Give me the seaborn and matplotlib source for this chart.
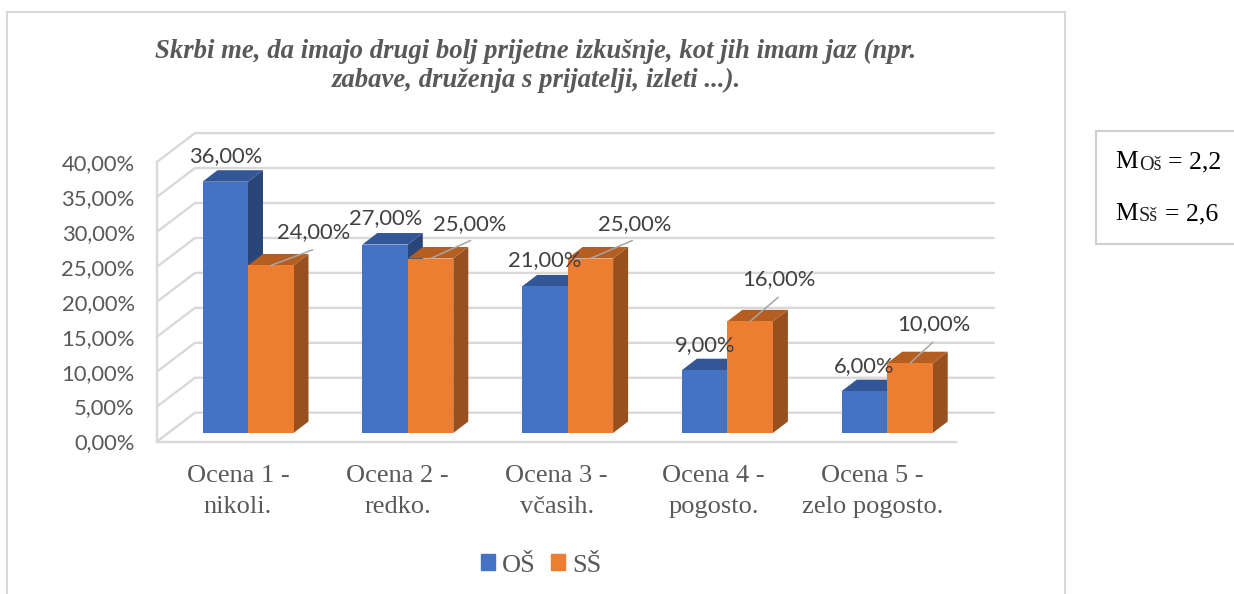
import matplotlib
matplotlib.use("Agg")
import matplotlib.pyplot as plt
from matplotlib.lines import Line2D
from matplotlib.patches import Patch, Polygon
from matplotlib.transforms import Affine2D
import pandas as pd
import seaborn as sns

categories = ["Ocena 1 -\nnikoli.", "Ocena 2 -\nredko.", "Ocena 3 -\nvčasih.",
              "Ocena 4 -\npogosto.", "Ocena 5 -\nzelo pogosto."]
os_values = [36, 27, 21, 9, 6]
ss_values = [24, 25, 25, 16, 10]
series_names = ["OŠ", "SŠ"]
y_ticks = [0, 5, 10, 15, 20, 25, 30, 35, 40]
title = "Skrbi me, da imajo drugi bolj prijetne izkušnje, kot jih imam jaz (npr.\nzabave, druženja s prijatelji, izleti ...)."

W, H = 1234, 594
sns.set_theme(style="white")
plt.rcParams["font.family"] = ["Lato", "DejaVu Sans"]
SERIF = ["Liberation Serif", "DejaVu Serif"]
BLUE, ORANGE = "#4472C4", "#ED7D31"
FACES = {BLUE: ("#2A4678", "#325696"), ORANGE: ("#98501E", "#B55E22")}
GRID = "#D9D9D9"

fig = plt.figure(figsize=(W / 100, H / 100), dpi=100, facecolor="white")

def fx(px): return px / W
def fy(py): return 1 - py / H

L, R, T, B = 157, 956, 125, 441.5
PX_X, PX_Y = 159.8, 6.98
X0, Y0 = 248, 433

ax2 = fig.add_axes([fx(L), fy(B), (R - L) / W, (B - T) / H])
ax = fig.add_axes([fx(L), fy(B), (R - L) / W, (B - T) / H], sharex=None)
ax.set_zorder(2)
ax.patch.set_visible(False)
ax2.set_zorder(1)

df = pd.DataFrame({
    "kat": categories * 2,
    "serija": [series_names[0]] * 5 + [series_names[1]] * 5,
    "v": os_values + ss_values,
})
sns.barplot(data=df, x="kat", y="v", hue="serija", palette=[BLUE, ORANGE],
            width=45.5 * 2 / PX_X, gap=0, saturation=1, legend=False, ax=ax, zorder=3)

xl, xr = (L - X0) / PX_X, (R - X0) / PX_X
ax.set_xlim(xl, xr)
ax.set_ylim((Y0 - B) / PX_Y, (Y0 - T) / PX_Y)
ax.set_xlabel("")
ax.set_ylabel("")
ax.set_yticks([])
for s in ax.spines.values():
    s.set_visible(False)
ax.tick_params(axis="x", length=0, pad=17)
ax.set_xticks(range(5))
ax.set_xticklabels(categories, fontfamily=SERIF, fontsize=19, color="#595959", linespacing=1.52)
label_shift = [-10, -10, -11, -14, -15]
for lab, s in zip(ax.get_xticklabels(), label_shift):
    lab.set_transform(lab.get_transform() + Affine2D().translate(s, 0))

# value axis and walls
ax2.set_xlim(xl, xr)
ax2.set_ylim(0, (B - T) / 6.99)
ax2.set_xticks([])
ax2.set_yticks(y_ticks)
ax2.set_yticklabels([f"{v},00%" for v in y_ticks], fontsize=15.8, color="#595959")
ax2.tick_params(axis="y", length=0, pad=16)
for n in ("top", "right"):
    ax2.spines[n].set_visible(False)
ax2.spines["left"].set_bounds(0, 40)
for n in ("left", "bottom"):
    ax2.spines[n].set_color(GRID)
    ax2.spines[n].set_linewidth(1.7)
ax2.patch.set_visible(False)
dx, dy = 38 / PX_X, 28.8 / 6.99
for v in y_ticks:
    ax2.plot([xl, xl + dx, xr + dx], [v, v + dy, v + dy], color=GRID, lw=1.7, clip_on=False,
             solid_joinstyle="miter")

# depth faces of the bars
ddx, ddy = 15 / PX_X, 11.5 / PX_Y
groups = {BLUE: ax.containers[0], ORANGE: ax.containers[1]}
for i in range(5):
    for color, cont in groups.items():
        r = cont[i]
        x0, x1, h = r.get_x(), r.get_x() + r.get_width(), r.get_height()
        side, top = FACES[color]
        z = 2 if color == BLUE else 2.5
        ax.add_patch(Polygon([(x1, 0), (x1 + ddx, ddy), (x1 + ddx, h + ddy), (x1, h)],
                             closed=True, fc=side, ec="none", zorder=z, clip_on=False))
        ax.add_patch(Polygon([(x0, h), (x0 + ddx, h + ddy), (x1 + ddx, h + ddy), (x1, h)],
                             closed=True, fc=top, ec="none", zorder=z, clip_on=False))
        r.set_zorder(z + 0.1)
        r.set_edgecolor("none")

# data labels: offsets in px from the top centre of each bar front (text dx, text dy, leader dx, leader dy)
os_off = [(0.5, 26, 0, 0), (1, 26, 0, 0), (0, 26, 0, 0), (0, 25, 0, 0), (0, 25, 0, 0)]
ss_off = [(43, 33.7, 42, 15.7), (39, 34.7, 40, 18), (44, 34.7, 42, 18), (28.5, 42.5, 28, 24), (24, 39, 23, 21)]
for cont, offs, vals in ((groups[BLUE], os_off, os_values), (groups[ORANGE], ss_off, ss_values)):
    for r, (tx, ty, lx, ly), v in zip(cont, offs, vals):
        xc = r.get_x() + r.get_width() / 2
        ax.annotate(f"{v},00%", xy=(xc, v), xytext=(tx * 0.72, ty * 0.72),
                    textcoords="offset points", ha="center", va="center",
                    fontsize=15.8, color="#404040", zorder=6, annotation_clip=False)
        if lx:
            ax.annotate("", xy=(xc, v), xytext=(lx * 0.72, ly * 0.72), textcoords="offset points",
                        arrowprops=dict(arrowstyle="-", color="#A6A6A6", lw=1.1, shrinkA=0, shrinkB=0),
                        zorder=6, annotation_clip=False)

# chart frame
def fline(xs, ys, color=GRID, lw=1.5):
    fig.add_artist(Line2D([fx(x) for x in xs], [fy(y) for y in ys], color=color, lw=lw,
                          solid_joinstyle="miter"))
fline([7, 7, 1065, 1065], [594, 11.5, 11.5, 594])
fline([1234, 1095.5, 1095.5, 1234], [131, 131, 244, 244], color="#CFCFCF")

fig.text(fx(536), fy(66), title, ha="center", va="center", fontfamily=SERIF, fontsize=19.3,
         fontweight="bold", fontstyle="italic", color="#595959", linespacing=1.22)

# legend
handles = [Patch(color=BLUE, label=series_names[0]), Patch(color=ORANGE, label=series_names[1])]
fig.legend(handles=handles, loc="center", bbox_to_anchor=(fx(541), fy(565.5)), ncol=2, frameon=False,
           prop={"family": SERIF, "size": 19}, labelcolor="#595959", handlelength=0.53, handleheight=0.53,
           handletextpad=0.25, columnspacing=0.6)

# side box
for y, sub, val in ((168, "Oš", "= 2,2"), (220, "Sš", "= 2,6")):
    fig.text(fx(1115), fy(y), "M", fontfamily=SERIF, fontsize=18.4, color="black", va="baseline")
    fig.text(fx(1139), fy(y + 1.5), sub, fontfamily=SERIF, fontsize=14.5, color="#222222", va="baseline")
    fig.text(fx(1168 if sub == "Oš" else 1165), fy(y), val, fontfamily=SERIF, fontsize=18.6, color="black", va="baseline")

fig.savefig("out.png", dpi=100)
